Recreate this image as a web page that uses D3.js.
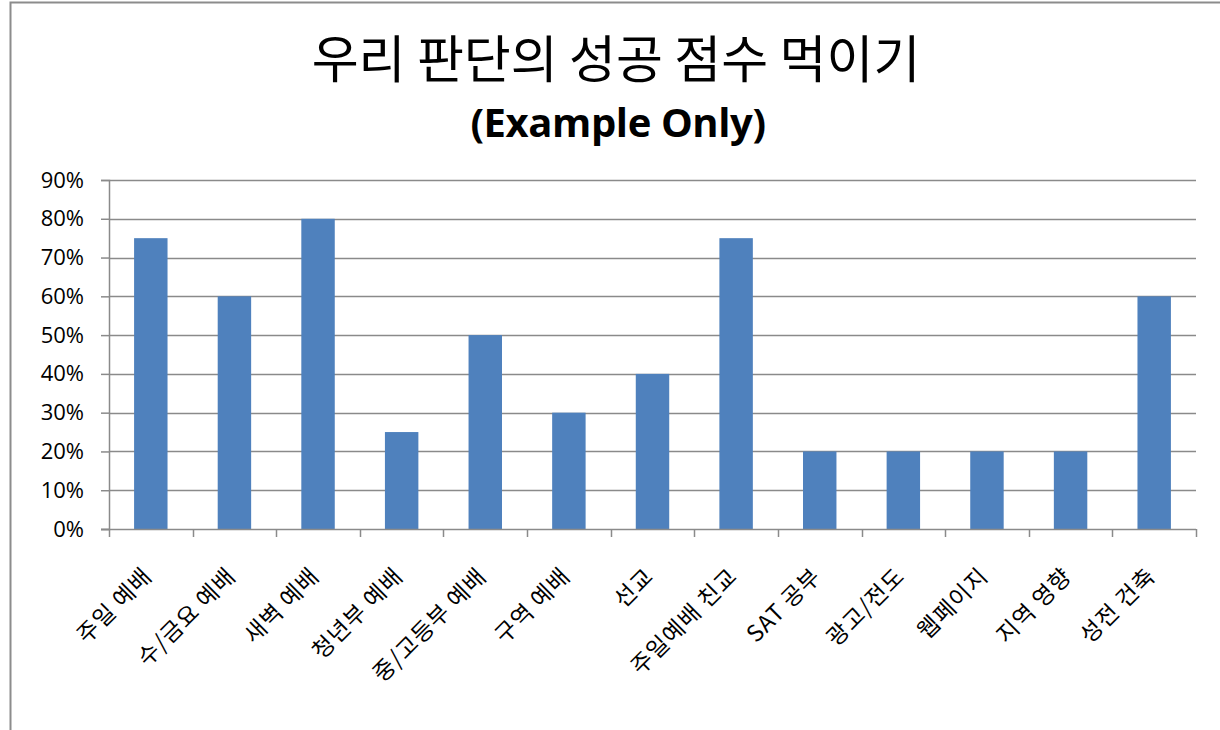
<!DOCTYPE html>
<html>
<head>
<meta charset="utf-8">
<script src="https://cdn.jsdelivr.net/npm/d3@7"></script>
<style>
  body { margin: 0; background: #fff; }
  svg text { font-family: "Noto Sans CJK KR", "Open Sans", sans-serif; fill: #000; }
  .ylab text { font-family: "Open Sans", "Noto Sans CJK KR", sans-serif; }
</style>
</head>
<body>
<svg id="chart" width="1220" height="730"></svg>
<script>
// chart data
var categories = ["주일 예배", "수/금요 예배", "새벽 예배", "청년부 예배", "중/고등부 예배", "구역 예배",
  "선교", "주일예배 친교", "SAT 공부", "광고/전도", "웹페이지", "지역 영향", "성전 건축"];
var scores = [0.75, 0.60, 0.80, 0.25, 0.50, 0.30, 0.40, 0.75, 0.20, 0.20, 0.20, 0.20, 0.60];
var yTicks = [0, 0.1, 0.2, 0.3, 0.4, 0.5, 0.6, 0.7, 0.8, 0.9];
var titleText = "우리 판단의 성공 점수 먹이기";
var subtitleText = "(Example Only)";

var svg = d3.select("#chart"),
    margin = {top: 180, right: 24, bottom: 201, left: 109},
    width = +svg.attr("width") - margin.left - margin.right,
    height = +svg.attr("height") - margin.top - margin.bottom;

// outer chart border (left and top edges visible)
svg.append("path")
    .attr("d", "M10.5,730 V2.5 H1230")
    .attr("fill", "none")
    .attr("stroke", "#8c8c8c")
    .attr("stroke-width", 2);

var x = d3.scaleBand()
    .domain(categories)
    .range([0, width])
    .paddingInner(0.6)
    .paddingOuter(0.3);

var y = d3.scaleLinear()
    .domain([0, 0.9])
    .range([height, 0]);

var g = svg.append("g")
    .attr("transform", "translate(" + margin.left + "," + margin.top + ")");

// gridlines
g.append("g")
    .selectAll("line")
    .data(yTicks.slice(1))
  .enter().append("line")
    .attr("x1", 0)
    .attr("x2", width)
    .attr("y1", function(d) { return Math.round(y(d)) + 0.5; })
    .attr("y2", function(d) { return Math.round(y(d)) + 0.5; })
    .attr("stroke", "#8a8a8a")
    .attr("stroke-width", 1.5);

// bars
g.append("g")
    .selectAll("rect")
    .data(scores)
  .enter().append("rect")
    .attr("x", function(d, i) { return x(categories[i]); })
    .attr("y", function(d) { return y(d); })
    .attr("width", x.bandwidth())
    .attr("height", function(d) { return height - y(d); })
    .attr("fill", "#4f81bd");

// y axis
var yAxis = g.append("g")
    .attr("class", "ylab")
    .call(d3.axisLeft(y).tickValues(yTicks).tickFormat(d3.format(".0%")).tickSize(8).tickPadding(17));
yAxis.select(".domain").attr("stroke", "#8a8a8a").attr("stroke-width", 1.5);
yAxis.selectAll(".tick line").attr("stroke", "#8a8a8a").attr("stroke-width", 1.5);
yAxis.selectAll("text").attr("font-size", null).style("font-size", "22px").attr("fill", "#000");

// x axis line + ticks at category boundaries
var step = x.step();
var bounds = d3.range(categories.length + 1).map(function(i) {
  return i === 0 ? 0 : x(categories[i - 1]) + x.bandwidth() + (step - x.bandwidth()) / 2;
});
g.append("line")
    .attr("x1", -8).attr("x2", width)
    .attr("y1", height + 0.5).attr("y2", height + 0.5)
    .attr("stroke", "#8a8a8a").attr("stroke-width", 1.5);
g.append("g")
    .selectAll("line")
    .data(bounds)
  .enter().append("line")
    .attr("x1", function(d) { return Math.round(d) + 0.5; })
    .attr("x2", function(d) { return Math.round(d) + 0.5; })
    .attr("y1", height)
    .attr("y2", height + 8)
    .attr("stroke", "#8a8a8a").attr("stroke-width", 1.5);

// category labels, rotated
g.append("g")
    .selectAll("text")
    .data(categories)
  .enter().append("text")
    .attr("transform", function(d) {
      return "translate(" + (x(d) + x.bandwidth() / 2 - 3) + "," + (height + 43) + ") rotate(-45)";
    })
    .attr("text-anchor", "end")
    .attr("dy", "0.35em")
    .style("font-size", "23px")
    .style("letter-spacing", "1px")
    .text(function(d) { return d; });

// titles
svg.append("text")
    .attr("x", 616)
    .attr("y", 78)
    .attr("text-anchor", "middle")
    .style("font-size", "51px")
    .text(titleText);

svg.append("text")
    .attr("x", 618)
    .attr("y", 137)
    .attr("text-anchor", "middle")
    .style("font-family", "'Open Sans', sans-serif")
    .style("font-weight", "bold")
    .style("font-size", "40px")
    .style("letter-spacing", "-0.4px")
    .text(subtitleText);
</script>
</body>
</html>
